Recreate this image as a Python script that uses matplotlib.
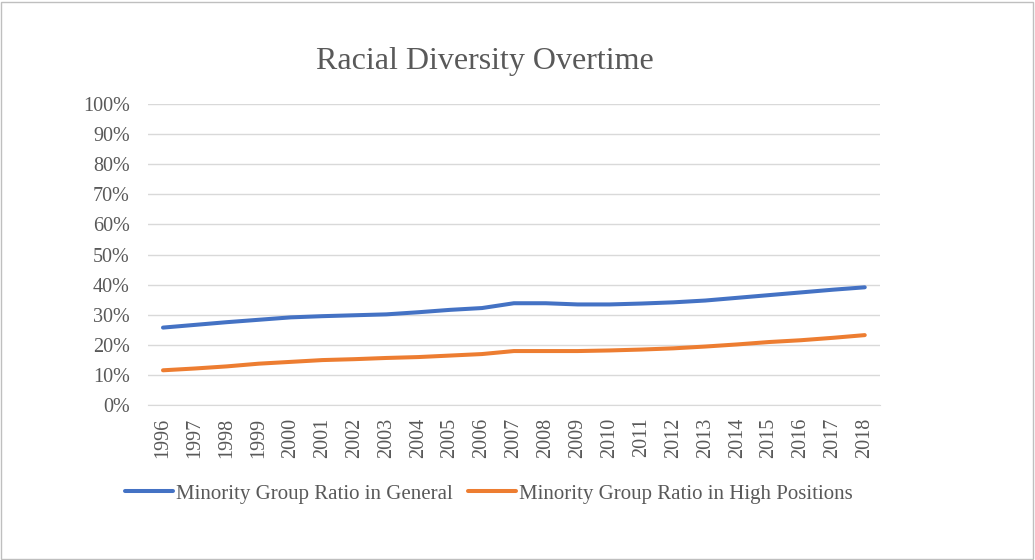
import matplotlib
matplotlib.use("Agg")
import matplotlib.pyplot as plt
from matplotlib.patches import Rectangle
from matplotlib.ticker import FuncFormatter

years = [str(y) for y in range(1996, 2019)]
general = [25.7, 26.6, 27.5, 28.3, 29.1, 29.5, 29.8, 30.1, 30.8, 31.6, 32.2, 33.8,
           33.8, 33.4, 33.4, 33.7, 34.1, 34.7, 35.6, 36.5, 37.4, 38.3, 39.1]
high = [11.5, 12.1, 12.8, 13.7, 14.3, 14.9, 15.2, 15.6, 15.9, 16.4, 16.9, 17.9,
        17.9, 17.9, 18.1, 18.4, 18.8, 19.4, 20.1, 20.9, 21.5, 22.3, 23.2]
yticks = list(range(0, 101, 10))

plt.rcParams['font.family'] = ['Liberation Serif', 'DejaVu Serif']

fig = plt.figure(figsize=(10.35, 5.6), dpi=100)
ax = fig.add_axes([0.143, 0.277, 0.707, 0.537])

x = list(range(len(years)))
ax.plot(x, general, color='#4472C4', lw=2.9, solid_capstyle='round',
        label='Minority Group Ratio in General')
ax.plot(x, high, color='#ED7D31', lw=2.9, solid_capstyle='round',
        label='Minority Group Ratio in High Positions')

ax.set_xlim(-0.47, len(years) - 0.53)
ax.set_ylim(0, 100)
ax.set_yticks(yticks)
ax.yaxis.set_major_formatter(FuncFormatter(lambda v, p: f"{int(v)}%"))
ax.set_xticks(x)
ax.set_xticklabels(years, rotation=90)
ax.grid(axis='y', color='#D9D9D9', lw=1)
ax.set_axisbelow(True)
for s in ['top', 'right', 'left']:
    ax.spines[s].set_visible(False)
ax.spines['bottom'].set_color('#D9D9D9')
ax.tick_params(axis='both', length=0, labelsize=14.5, colors='#595959')
ax.tick_params(axis='y', pad=13)
ax.tick_params(axis='x', pad=9)

fig.text(0.468, 0.877, 'Racial Diversity Overtime', ha='center', va='baseline',
         fontsize=23, color='#595959')

leg = fig.legend(loc='center', bbox_to_anchor=(0.4725, 0.118), ncol=2, frameon=False,
                 fontsize=15, handlelength=2.3, handletextpad=0.15, columnspacing=0.72)
for t in leg.get_texts():
    t.set_color('#595959')

fig.patches.append(Rectangle((0.001, 0.001), 0.997, 0.996, transform=fig.transFigure,
                             fill=False, edgecolor='#BFBFBF', lw=1))

fig.savefig('out.png', dpi=100)
